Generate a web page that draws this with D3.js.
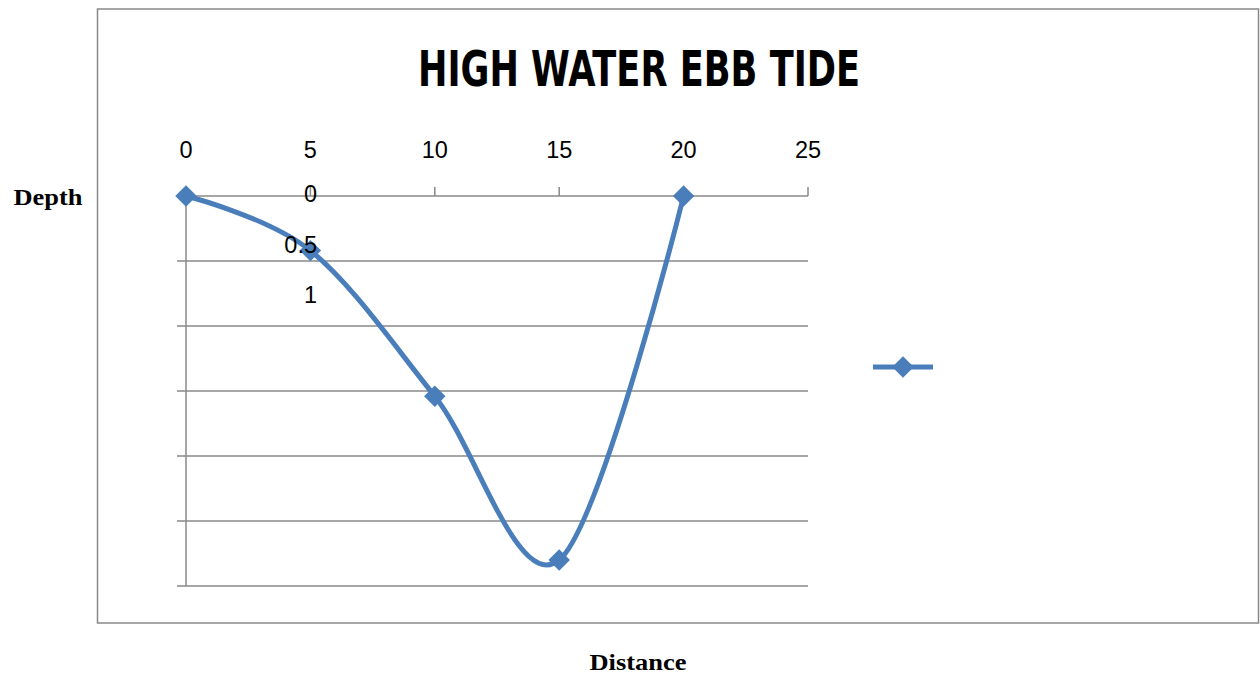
<!DOCTYPE html>
<html>
<head>
<meta charset="utf-8">
<script src="https://cdn.jsdelivr.net/npm/d3@7"></script>
<style>
  body { margin: 0; background: #fff; }
  svg { display: block; }
</style>
</head>
<body>
<script>
// values
const distance = [0, 5, 10, 15, 20];
const depth = [0, 0.42, 1.54, 2.8, 0];
const xTicks = [0, 5, 10, 15, 20, 25];
const yTicks = [0, 0.5, 1, 1.5, 2, 2.5, 3];
const yLabels = ['0', '0.5', '1'];   // only these show, squeezed near x = 5

const title = 'HIGH WATER EBB TIDE';
const blue = '#4a7ebb';
const grid = '#888';

function draw() {
    const width = 1260, height = 678;

    const svg = d3.select('body').append('svg')
        .attr('width', width)
        .attr('height', height);

    // chart frame
    svg.append('rect')
        .attr('x', 97.5).attr('y', 9)
        .attr('width', 1161).attr('height', 614)
        .attr('fill', 'none')
        .attr('stroke', grid)
        .attr('stroke-width', 1.5);

    const X = d3.scaleLinear()
        .domain([0, 25])
        .range([186, 808]);

    const Y = d3.scaleLinear()
        .domain([0, 3])
        .range([196, 586]);

    // horizontal gridlines with left ticks
    svg.append('g')
        .selectAll('line')
        .data(yTicks)
        .join('line')
        .attr('x1', X(0) - 9)
        .attr('x2', X(25))
        .attr('y1', d => Y(d))
        .attr('y2', d => Y(d))
        .attr('stroke', grid)
        .attr('stroke-width', 1.5);

    // left vertical axis
    svg.append('line')
        .attr('x1', X(0)).attr('x2', X(0))
        .attr('y1', Y(0)).attr('y2', Y(3))
        .attr('stroke', grid)
        .attr('stroke-width', 1.5);

    // top x axis ticks
    svg.append('g')
        .selectAll('line')
        .data(xTicks)
        .join('line')
        .attr('x1', d => X(d)).attr('x2', d => X(d))
        .attr('y1', Y(0) - 9).attr('y2', Y(0))
        .attr('stroke', grid)
        .attr('stroke-width', 1.5);

    svg.append('g')
        .selectAll('text')
        .data(xTicks)
        .join('text')
        .attr('x', d => X(d))
        .attr('y', 158)
        .attr('text-anchor', 'middle')
        .style('font-family', 'Liberation Sans, Arial, sans-serif')
        .style('font-size', '23.5px')
        .attr('fill', '#000')
        .text(d => d);

    const pts = distance.map((d, i) => [d, depth[i]]);

    const line = d3.line()
        .x(d => X(d[0]))
        .y(d => Y(d[1]))
        .curve(d3.curveCardinal.tension(0));

    svg.append('path')
        .attr('d', line(pts))
        .attr('fill', 'none')
        .attr('stroke', blue)
        .attr('stroke-width', 5)
        .attr('stroke-linecap', 'round');

    const diamond = d3.symbol().type(d3.symbolSquare).size(230);

    svg.append('g')
        .selectAll('path')
        .data(pts)
        .join('path')
        .attr('d', diamond)
        .attr('transform', d => `translate(${X(d[0])},${Y(d[1])}) rotate(45)`)
        .attr('fill', blue);

    // the misplaced y labels, drawn over the series
    const YL = d3.scalePoint()
        .domain(yLabels)
        .range([202, 303]);

    svg.append('g')
        .selectAll('text')
        .data(yLabels)
        .join('text')
        .attr('x', 317)
        .attr('y', d => YL(d))
        .attr('text-anchor', 'end')
        .style('font-family', 'Liberation Sans, Arial, sans-serif')
        .style('font-size', '23.5px')
        .attr('fill', '#000')
        .text(d => d);

    // legend
    svg.append('line')
        .attr('x1', 873).attr('x2', 933)
        .attr('y1', 367).attr('y2', 367)
        .attr('stroke', blue)
        .attr('stroke-width', 5);
    svg.append('path')
        .attr('d', diamond)
        .attr('transform', 'translate(903,367) rotate(45)')
        .attr('fill', blue);

    // title
    svg.append('text')
        .attr('x', 639)
        .attr('y', 86)
        .attr('text-anchor', 'middle')
        .attr('textLength', 442)
        .attr('lengthAdjust', 'spacingAndGlyphs')
        .style('font-family', 'Liberation Sans Narrow, DejaVu Sans Condensed, Arial, sans-serif')
        .style('font-weight', 'bold')
        .style('font-size', '49px')
        .text(title);

    // axis names outside the frame
    svg.append('text')
        .attr('x', 48)
        .attr('y', 205)
        .attr('text-anchor', 'middle')
        .attr('textLength', 69)
        .attr('lengthAdjust', 'spacingAndGlyphs')
        .style('font-family', 'Liberation Serif, Times New Roman, serif')
        .style('font-weight', 'bold')
        .style('font-size', '24px')
        .text('Depth');

    svg.append('text')
        .attr('x', 638)
        .attr('y', 670)
        .attr('text-anchor', 'middle')
        .attr('textLength', 97)
        .attr('lengthAdjust', 'spacingAndGlyphs')
        .style('font-family', 'Liberation Serif, Times New Roman, serif')
        .style('font-weight', 'bold')
        .style('font-size', '24px')
        .text('Distance');
}

draw();
</script>
</body>
</html>
